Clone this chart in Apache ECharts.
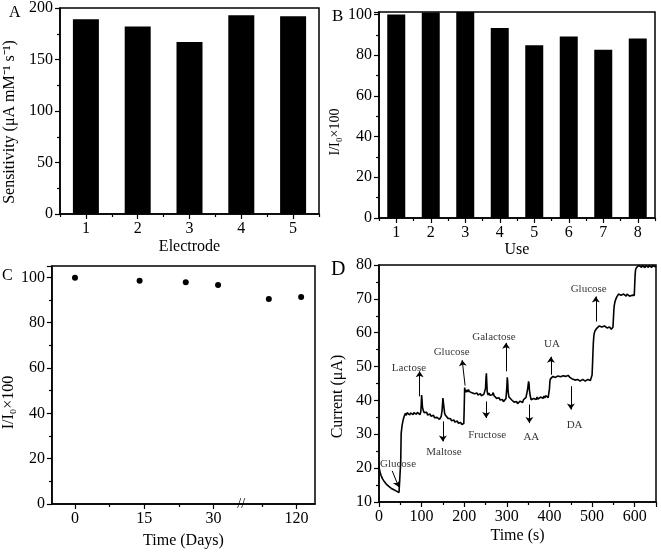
<!DOCTYPE html>
<html><head><meta charset="utf-8">
<script src="https://cdn.jsdelivr.net/npm/echarts@6/dist/echarts.min.js"></script>
<style>html,body{margin:0;padding:0;background:#fff}#c{width:661px;height:553px}</style>
</head><body><div id="c"></div>
<script>
// ---- Panel A: sensitivity of five electrodes ----
const electrodes = ['1', '2', '3', '4', '5'];
const sensitivity = [189, 182, 167, 193, 192];
// ---- Panel B: repeated use ----
const uses = ['1', '2', '3', '4', '5', '6', '7', '8'];
const reuseRetention = [100, 101, 101.2, 93.4, 84.9, 89.2, 82.6, 88.2];
// ---- Panel C: storage stability ----
const storageDays = [0, 14, 24, 31, 114, 121];
const storageRetention = [99.8, 98.5, 97.8, 96.6, 90.4, 91.3];
const dayTicks = [0, 15, 30, 120];
const dayMinorTicks = [7.5, 22.5, 112.5];
// ---- Panel D: amperometric response [time s, current uA] ----
const ampTrace = [
[0,20.6],[1,19.6],[3,18.6],[5,17.8],[8,16.9],[11,16.3],[14,15.8],[17,15.3],[20,14.9],[23,14.6],[26,14.3],[29,14.0],[32,13.8],[35,13.6],[38,13.4],[41,13.2],[44,13.0],[47,12.8],[49,12.6],[50,12.9],
[51,22],[52,30.2],[54,32.5],[56,33.8],[58,34.9],[60,35.6],[62,36.2],
[64,35.6],[66,36.4],[68,35.9],[70,36.6],[72,35.7],[74,36.3],[76,36.0],[78,36.8],[80,35.8],[82,36.4],[84,36.1],[86,36.9],[88,35.9],[90,36.5],[92,36.2],[94,36.7],[96,35.8],[98,36.6],
[99,38.5],[100,41.6],[101,40.0],[102,38.0],[104,37.0],[106,36.4],[108,36.9],[110,36.0],[112,36.5],[114,35.7],[116,36.1],[118,35.5],[120,36.0],[122,35.3],[124,35.7],[126,35.1],[128,35.6],[130,34.9],[132,35.3],[134,34.6],[136,35.0],[138,34.5],[140,34.9],[142,34.4],[144,34.9],[146,35.3],[148,37.0],
[150,40.7],[151,40.2],[152,38.4],[154,36.2],[156,35.6],[158,35.1],[160,35.4],[162,34.7],[164,34.9],[166,34.3],[168,34.6],[170,34.0],[172,34.4],[174,33.8],[176,34.2],[178,33.6],[180,34.0],[182,33.4],[184,33.9],[186,33.3],[188,33.7],[190,33.1],[192,33.5],[194,32.9],[196,33.4],[198,33.0],[199,33.2],
[200,38],[201,43.8],[202,43.0],[204,42.4],[206,43.1],[208,42.5],[210,43.2],[212,42.6],[214,42.1],[216,42.8],[218,42.3],[220,41.8],[222,42.5],[224,42.0],[226,42.4],[228,41.7],[230,42.2],[232,41.6],[234,42.1],[236,41.5],[238,42.0],[240,41.4],[242,41.9],[244,41.3],[246,41.8],[248,41.4],[250,43.5],
[251,46.5],[252,48.0],[253,45.0],[254,42.5],[256,41.6],[258,42.2],[260,41.5],[262,41.9],[264,41.2],[266,41.7],[268,42.3],[270,41.4],[272,40.9],[274,41.5],[276,40.6],[278,41.1],[280,40.3],[282,40.8],[284,40.1],[286,40.6],[288,39.8],[290,40.3],[292,39.6],[294,40.0],[296,39.5],[298,40.6],[300,44.0],
[301,46.8],[302,45.5],[303,42.5],[305,41.0],[307,40.5],[309,41.0],[311,40.2],[313,39.7],[315,40.3],[317,39.5],[319,39.9],[321,39.2],[323,39.7],[325,39.0],[327,39.5],[329,39.1],[331,39.8],[333,39.3],[335,39.9],[337,39.4],[339,40.2],[341,39.7],[343,40.5],[345,40.9],[347,41.3],[349,43.5],
[351,45.6],[352,45.0],[353,43.0],[355,41.3],[357,40.2],[359,40.7],[361,39.9],[363,40.6],[365,40.1],[367,40.9],[369,40.3],[371,41.0],[373,40.4],[375,40.8],[377,40.2],[379,41.0],[381,40.5],[383,41.2],[385,40.6],[387,41.3],[389,40.7],[391,41.4],[393,40.9],[395,41.5],[397,40.8],[399,41.2],
[400,43.5],[401,45.5],[402,46.3],[404,46.8],[406,46.4],[408,47.1],[410,46.7],[412,47.2],[414,46.8],[416,47.3],[418,46.9],[420,47.2],[422,46.8],[424,47.3],[426,47.0],[428,47.4],[430,47.0],[432,47.3],[434,46.9],[436,47.3],[438,47.1],[440,47.5],[442,47.2],[444,47.4],[446,47.0],[448,46.8],[450,46.5],[452,46.7],[454,46.3],[456,46.1],[458,46.4],[460,46.0],[462,46.3],[464,45.9],[466,46.2],[468,45.8],[470,46.1],[472,45.7],[474,46.0],[476,45.8],[478,46.2],[480,45.8],[482,46.1],[484,45.7],[486,46.0],[488,45.8],[490,46.2],[492,45.8],[494,46.1],[496,45.9],[498,46.2],[499,46.0],
[500,47.5],[501,50.5],[502,54],[503,57],[504,58.8],[505,59.8],[507,60.6],[509,61.0],[511,61.3],[513,61.8],[515,61.4],[517,62.0],[519,61.6],[521,62.2],[523,61.7],[525,62.1],[527,61.6],[529,62.0],[531,61.5],[533,61.9],[535,61.4],[537,61.8],[539,61.3],[541,61.7],[543,61.2],[545,61.0],[547,61.4],[549,61.6],
[550,64],[551,66.5],[552,68.0],[554,69.3],[556,70.0],[558,70.6],[560,70.9],[562,71.4],[564,71.0],[566,71.6],[568,71.1],[570,71.5],[572,70.9],[574,71.4],[576,71.0],[578,71.3],[580,70.8],[582,71.4],[584,70.9],[586,71.3],[588,70.8],[590,71.2],[592,70.7],[594,71.1],[596,70.8],[598,71.3],[599,71.0],
[600,74],[601,77],[602,78.6],[604,79.2],[606,79.7],[608,79.3],[610,79.9],[612,79.4],[614,79.8],[616,79.3],[618,79.9],[620,79.4],[622,79.8],[624,79.2],[626,79.9],[628,79.4],[630,79.8],[632,79.3],[634,79.9],[636,79.5],[638,79.8],[640,79.3],[642,79.9],[644,79.4],[646,79.8],[648,79.5],[650,79.7]
];
// injection annotations (data coordinates)
const injectionNames = ['Glucose','Lactose','Maltose','Glucose','Fructose','Galactose','AA','UA','DA','Glucose'];
const injectionLabelAt = [[44.6,21.2],[70.3,49.4],[152.6,24.7],[170.6,54.2],[253.7,29.7],[269.7,58.8],[357.5,29.3],[406,56.7],[459,32.6],[492,72.8]];
const arrowFrom = [[31,19.2],[95.3,41.2],[149.9,33.8],[202,44.4],[251.4,39.7],[298.2,48.6],[352.8,38.8],[403.5,47.6],[450.3,44.2],[508.8,63.3]];
const arrowTo = [[46.5,14.4],[95.3,48.6],[149.9,27.9],[195.2,51.9],[251.4,34.8],[298.2,57],[352.8,33.3],[403.5,52.9],[450.3,37.3],[508.8,70.7]];

const FONT = "'Liberation Serif','Times New Roman',serif";
const BLACK = '#000';
const lbl = (extra) => Object.assign({color: BLACK, fontFamily: FONT, fontSize: 16, margin: 7}, extra || {});
const axLine = {show: true, onZero: false, lineStyle: {color: BLACK, width: 1.5}};
const noLine = {show: false, onZero: false};
const tick = (len) => ({show: true, length: len, lineStyle: {color: BLACK, width: 1.2}});
const minor = {show: true, splitNumber: 2, length: 3, lineStyle: {color: BLACK, width: 1.2}};
const nameStyle = (size, pad) => ({color: BLACK, fontFamily: FONT, fontSize: size, padding: pad || 0});
const gridBox = {show: true, borderColor: BLACK, borderWidth: 1.5, backgroundColor: 'transparent'};

const chart = echarts.init(document.getElementById('c'), null, {renderer: 'canvas'});

const option = {
  backgroundColor: '#fff',
  animation: false,
  grid: [
    Object.assign({left: 60, top: 7, width: 259, height: 207}, gridBox),
    Object.assign({left: 379, top: 12, width: 276, height: 206}, gridBox),
    Object.assign({left: 47, top: 266, width: 268, height: 238}, gridBox),
    Object.assign({left: 379, top: 265, width: 277, height: 237}, gridBox)
  ],
  xAxis: [
    {gridIndex: 0, type: 'category', data: electrodes, axisLine: axLine,
     axisTick: Object.assign(tick(5), {alignWithLabel: true}), axisLabel: lbl(),
     name: 'Electrode', nameLocation: 'middle', nameGap: 25, nameTextStyle: nameStyle(16), splitLine: {show: false}},
    {gridIndex: 0, type: 'category', data: electrodes, position: 'bottom', axisLine: noLine,
     axisTick: tick(3), axisLabel: {show: false}, splitLine: {show: false}},
    {gridIndex: 1, type: 'category', data: uses, axisLine: axLine,
     axisTick: Object.assign(tick(5), {alignWithLabel: true}), axisLabel: lbl(),
     name: 'Use', nameLocation: 'middle', nameGap: 23, nameTextStyle: nameStyle(16), splitLine: {show: false}},
    {gridIndex: 1, type: 'category', data: uses, position: 'bottom', axisLine: noLine,
     axisTick: tick(3), axisLabel: {show: false}, splitLine: {show: false}},
    {gridIndex: 2, type: 'value', min: -5, max: 124,
     breaks: [{start: 36, end: 108, gap: 0}], breakArea: {show: false},
     axisLine: axLine, axisTick: Object.assign(tick(5), {customValues: dayTicks}),
     axisLabel: lbl({customValues: dayTicks}), splitLine: {show: false},
     name: 'Time (Days)', nameLocation: 'middle', nameGap: 29, nameTextStyle: nameStyle(16)},
    {gridIndex: 2, type: 'value', min: -5, max: 124, position: 'bottom',
     breaks: [{start: 36, end: 108, gap: 0}], breakArea: {show: false},
     axisLine: noLine, axisTick: Object.assign(tick(3), {customValues: dayMinorTicks}),
     axisLabel: {show: true, customValues: dayMinorTicks, formatter: () => ''}, splitLine: {show: false}},
    {gridIndex: 3, type: 'value', min: 0, max: 650, interval: 100,
     axisLine: axLine, axisTick: tick(5), minorTick: minor, axisLabel: lbl({showMaxLabel: false}),
     splitLine: {show: false}, minorSplitLine: {show: false},
     name: 'Time (s)', nameLocation: 'middle', nameGap: 26, nameTextStyle: nameStyle(16)}
  ],
  yAxis: [
    {gridIndex: 0, type: 'value', min: 0, max: 200, interval: 50, axisLine: axLine,
     axisTick: tick(5), minorTick: minor, axisLabel: lbl(), splitLine: {show: false},
     name: 'Sensitivity (μA mM⁻¹ s⁻¹)', nameLocation: 'middle', nameGap: 42,
     nameTextStyle: nameStyle(16, [0, 22, 0, 0])},
    {gridIndex: 1, type: 'value', min: 0, max: 101.2, interval: 20, axisLine: axLine,
     axisTick: tick(5), minorTick: minor, axisLabel: lbl({showMaxLabel: false}), splitLine: {show: false},
     name: 'I/I₀×100', nameLocation: 'middle', nameGap: 37, nameTextStyle: nameStyle(14, [0, 34, 0, 0])},
    {gridIndex: 2, type: 'value', min: 0, max: 105, interval: 20, axisLine: axLine,
     axisTick: tick(5), minorTick: minor, axisLabel: lbl({showMaxLabel: false}), splitLine: {show: false},
     name: 'I/I₀×100', nameLocation: 'middle', nameGap: 29, nameTextStyle: nameStyle(16, [0, 35, 0, 0])},
    {gridIndex: 3, type: 'value', min: 10, max: 80, interval: 10, axisLine: axLine,
     axisTick: tick(5), minorTick: minor, axisLabel: lbl(), splitLine: {show: false},
     name: 'Current (μA)', nameLocation: 'middle', nameGap: 33, nameTextStyle: nameStyle(16, [0, 26, 0, 0])}
  ],
  series: [
    {type: 'bar', xAxisIndex: 0, yAxisIndex: 0, data: sensitivity, barWidth: 26,
     itemStyle: {color: BLACK}},
    {type: 'bar', xAxisIndex: 2, yAxisIndex: 1, data: reuseRetention, barWidth: 18,
     itemStyle: {color: BLACK}},
    {type: 'scatter', xAxisIndex: 4, yAxisIndex: 2, symbolSize: 6,
     data: storageDays.map((d, i) => [d, storageRetention[i]]), itemStyle: {color: BLACK, opacity: 1}},
    {type: 'line', xAxisIndex: 6, yAxisIndex: 3, data: ampTrace, showSymbol: false,
     lineStyle: {color: BLACK, width: 1.6}, itemStyle: {color: BLACK},
     markLine: {silent: true, symbol: ['none', 'arrow'], symbolSize: 6, animation: false,
       label: {show: false}, lineStyle: {color: BLACK, width: 1, type: 'solid'},
       data: arrowFrom.map((f, i) => [{coord: f}, {coord: arrowTo[i]}])}},
    {type: 'scatter', xAxisIndex: 6, yAxisIndex: 3, symbolSize: 0, silent: true,
     data: injectionNames.map((n, i) => ({name: n, value: injectionLabelAt[i]})),
     label: {show: true, position: 'inside', formatter: '{b}', color: BLACK, fontFamily: FONT, fontSize: 11}}
  ]
};
chart.setOption(option);

// panel letters and axis break mark
const bx = chart.convertToPixel({xAxisIndex: 4}, 36);
const by = chart.convertToPixel({yAxisIndex: 2}, 0);
const letter = (t, x, y, s) => ({type: 'text', x: x, y: y, style: {text: t, fill: BLACK, font: s + 'px ' + FONT, textVerticalAlign: 'middle'}});
chart.setOption({graphic: [
  letter('A', 9, 13, 16),
  letter('B', 332, 17, 17),
  letter('C', 2, 276, 16),
  letter('D', 331, 270, 20),
  {type: 'text', x: bx, y: by, style: {text: '//', fill: BLACK, font: '14px ' + FONT, textAlign: 'center', textVerticalAlign: 'middle'}}
]});
</script>
</body></html>
